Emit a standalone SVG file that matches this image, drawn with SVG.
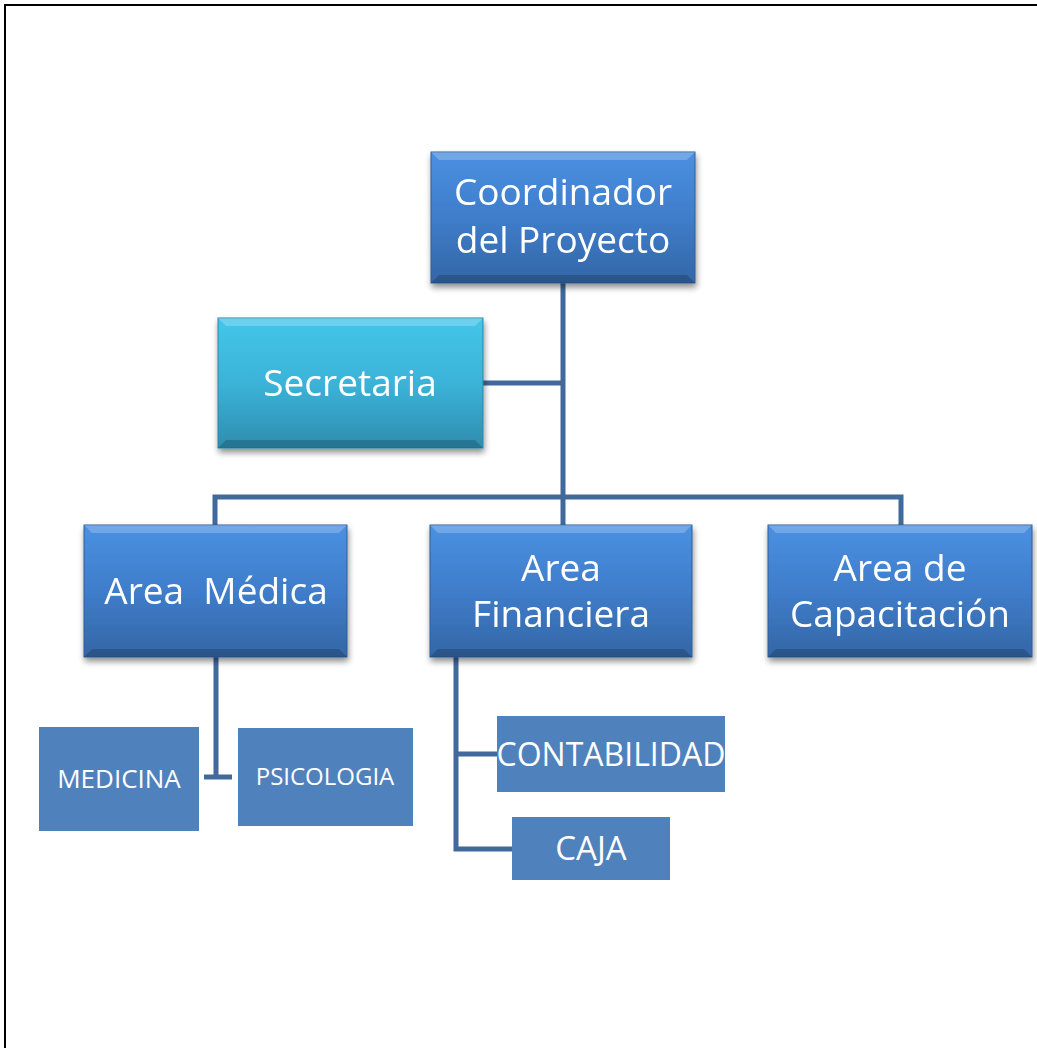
<svg xmlns="http://www.w3.org/2000/svg" width="1037" height="1048" viewBox="0 0 1037 1048">
<defs>
<linearGradient id="gBlue" x1="0" y1="0" x2="0" y2="1">
<stop offset="0" stop-color="#4a90e2"/>
<stop offset="0.5" stop-color="#3f7dca"/>
<stop offset="1" stop-color="#3466a6"/>
</linearGradient>
<linearGradient id="gTeal" x1="0" y1="0" x2="0" y2="1">
<stop offset="0" stop-color="#44c6ea"/>
<stop offset="0.5" stop-color="#3bb3d8"/>
<stop offset="1" stop-color="#2e8db0"/>
</linearGradient>
<filter id="sh" x="-10%" y="-10%" width="120%" height="130%">
<feGaussianBlur in="SourceAlpha" stdDeviation="3"/>
<feOffset dx="1" dy="4" result="b"/>
<feComponentTransfer><feFuncA type="linear" slope="0.45"/></feComponentTransfer>
<feMerge><feMergeNode/><feMergeNode in="SourceGraphic"/></feMerge>
</filter>
</defs>
<style>
.frame{fill:none;stroke:#000;stroke-width:2}
.conn{fill:none;stroke:#41699b;stroke-width:5;stroke-linejoin:miter}
.blue{fill:url(#gBlue);stroke:#2f5e96;stroke-width:1}
.teal{fill:url(#gTeal);stroke:#2b86a6;stroke-width:1}
.flat{fill:#4f81bd}
.hi{fill:#ffffff;opacity:0.22}
.lo{fill:#000000;opacity:0.18}
text{font-family:"Open Sans","Noto Sans","DejaVu Sans",sans-serif;fill:#ffffff;text-anchor:middle}
.big{font-size:37px}
</style>
<rect width="1037" height="1048" fill="#ffffff"/>
<path class="frame" d="M5,1048 V5 H1037"/>

<g id="connectors">
<path class="conn" d="M563,283 V525"/>
<path class="conn" d="M483,383 H563"/>
<path class="conn" d="M215,525 V497 H901 V525"/>
<path class="conn" d="M216,657 V777"/>
<path class="conn" d="M204,777 H232"/>
<path class="conn" d="M497,754 H456 M456,657 V849 H512"/>
</g>

<g id="coordinador" filter="url(#sh)">
<rect class="blue" x="431" y="152" width="264" height="131"/>
<polygon class="hi" points="431,152 695,152 687,160 439,160"/>
<polygon class="lo" points="431,283 695,283 687,275 439,275"/>
<text class="big" x="563" y="205">Coordinador</text>
<text class="big" x="563" y="253">del Proyecto</text>
</g>

<g id="secretaria" filter="url(#sh)">
<rect class="teal" x="218" y="318" width="265" height="130"/>
<polygon class="hi" points="218,318 483,318 475,326 226,326"/>
<polygon class="lo" points="218,448 483,448 475,440 226,440"/>
<text class="big" x="350" y="396">Secretaria</text>
</g>

<g id="area-medica" filter="url(#sh)">
<rect class="blue" x="84" y="525" width="263" height="132"/>
<polygon class="hi" points="84,525 347,525 339,533 92,533"/>
<polygon class="lo" points="84,657 347,657 339,649 92,649"/>
<text class="big" x="216" y="604" xml:space="preserve">Area  Médica</text>
</g>

<g id="area-financiera" filter="url(#sh)">
<rect class="blue" x="430" y="525" width="262" height="132"/>
<polygon class="hi" points="430,525 692,525 684,533 438,533"/>
<polygon class="lo" points="430,657 692,657 684,649 438,649"/>
<text class="big" x="561" y="581">Area</text>
<text class="big" x="561" y="627">Financiera</text>
</g>

<g id="area-capacitacion" filter="url(#sh)">
<rect class="blue" x="768" y="525" width="264" height="132"/>
<polygon class="hi" points="768,525 1032,525 1024,533 776,533"/>
<polygon class="lo" points="768,657 1032,657 1024,649 776,649"/>
<text class="big" x="900" y="581">Area de</text>
<text class="big" x="900" y="627">Capacitación</text>
</g>

<g id="medicina">
<rect class="flat" x="39" y="727" width="160" height="104"/>
<text x="119" y="788" font-size="26">MEDICINA</text>
</g>

<g id="psicologia">
<rect class="flat" x="238" y="728" width="175" height="98"/>
<text x="325" y="785" font-size="24">PSICOLOGIA</text>
</g>

<g id="contabilidad">
<rect class="flat" x="497" y="716" width="228" height="76"/>
<text x="611" y="766" font-size="32">CONTABILIDAD</text>
</g>

<g id="caja">
<rect class="flat" x="512" y="817" width="158" height="63"/>
<text x="591" y="860" font-size="33">CAJA</text>
</g>
</svg>
